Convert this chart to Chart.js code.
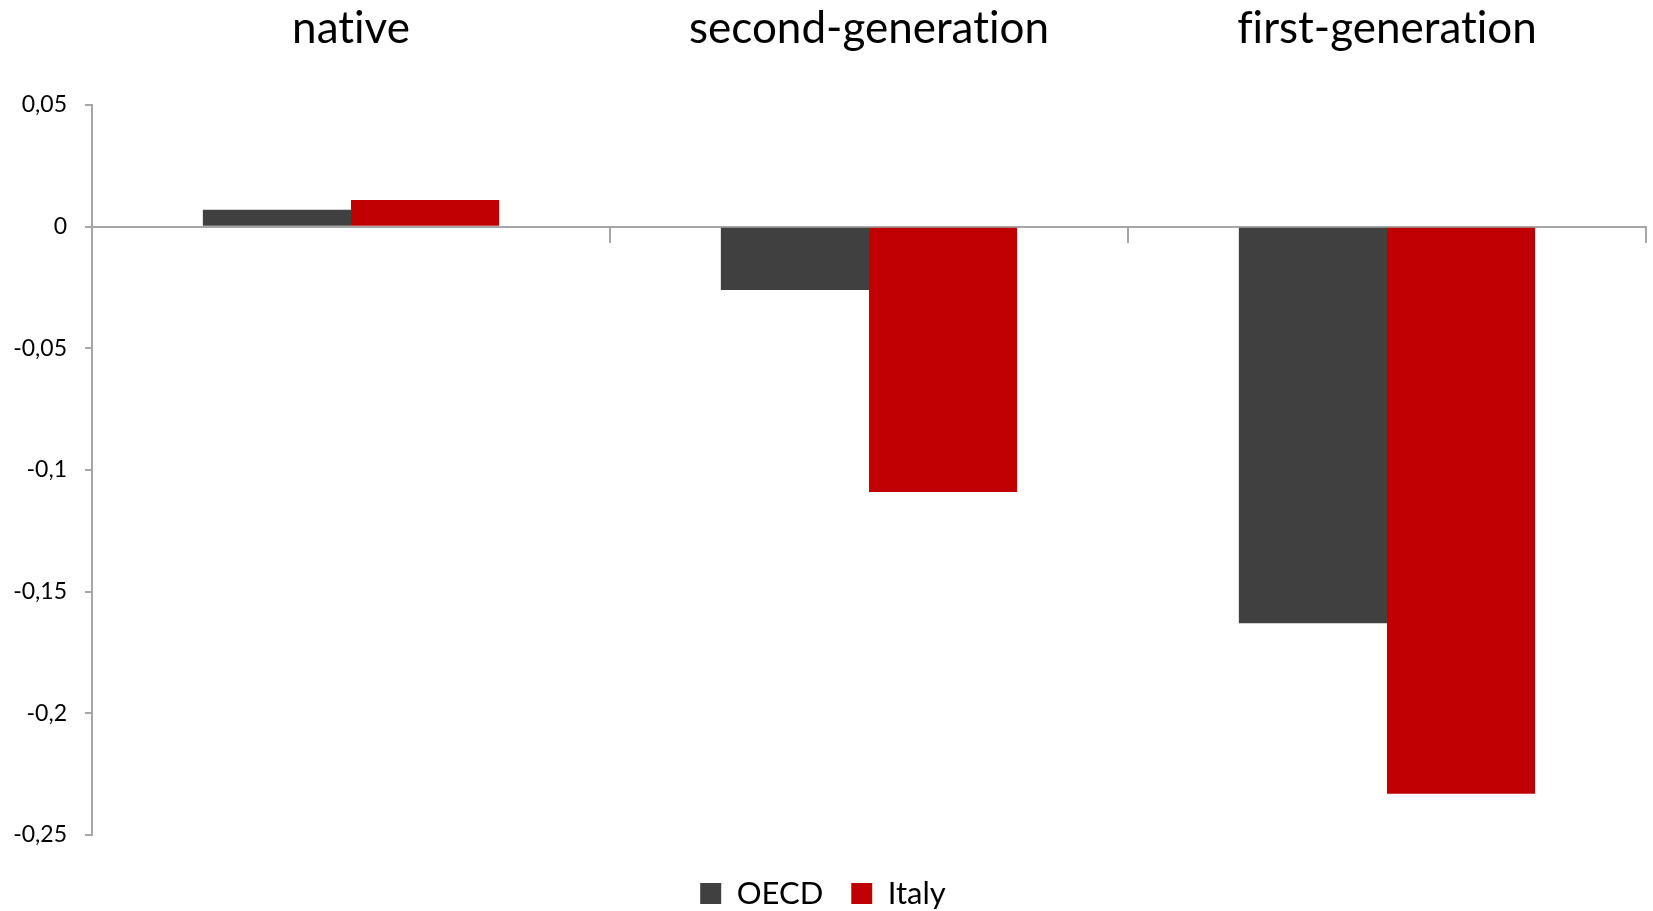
<!DOCTYPE html>
<html>
<head>
<meta charset="utf-8">
<script src="https://cdn.jsdelivr.net/npm/chart.js@4.4.1/dist/chart.umd.min.js"></script>
<style>
  html, body { margin: 0; padding: 0; background: #fff; }
  #wrap { width: 1653px; height: 911px; }
</style>
</head>
<body>
<div id="wrap"><canvas id="gaps"></canvas></div>
<script>
const groups = ["native", "second-generation", "first-generation"];
const oecdValues = [0.007, -0.026, -0.163];
const italyValues = [0.011, -0.109, -0.233];
const yTicks = [0.05, 0, -0.05, -0.1, -0.15, -0.2, -0.25];

const gray = '#a6a6a6';

// no ligatures (the original has plain "ti" / "fi")
const noLigatures = {
    id: 'noLigatures',
    beforeDraw(chart) { chart.ctx.textRendering = 'optimizeSpeed'; }
};

const myChart = new Chart(document.getElementById("gaps"), {
    type: 'bar',
    data: {
        labels: groups,
        datasets: [
            {label: 'OECD', data: oecdValues, backgroundColor: '#404040', borderWidth: 0},
            {label: 'Italy', data: italyValues, backgroundColor: '#c00000', borderWidth: 0}
        ]
    },
    plugins: [noLigatures],
    options: {
        responsive: true,
        maintainAspectRatio: false,
        animation: false,
        layout: {padding: {left: 0, right: 7, top: 0, bottom: -8}},
        datasets: {bar: {categoryPercentage: 0.572, barPercentage: 1}},
        plugins: {
            tooltip: {enabled: false},
            legend: {
                position: 'bottom',
                labels: {
                    color: '#000',
                    font: {family: 'Lato', size: 31},
                    boxWidth: 21, boxHeight: 21, padding: 28
                }
            }
        },
        scales: {
            x: {
                position: 'top',
                grid: {display: false},
                border: {display: false},
                ticks: {color: '#000', font: {family: 'Lato', size: 44}, padding: 42},
                afterFit: (s) => { s.height = 105; }
            },
            x2: {
                type: 'category',
                labels: groups,
                position: {y: 0},
                offset: true,
                grid: {offset: true, drawOnChartArea: false, tickLength: 15, color: gray, lineWidth: 2},
                border: {color: gray, width: 2},
                ticks: {display: false}
            },
            gap: {
                type: 'category',
                labels: groups,
                position: 'bottom',
                grid: {display: false},
                border: {display: false},
                ticks: {display: false},
                afterFit: (s) => { s.height = 15; }
            },
            y: {
                min: -0.25, max: 0.05,
                afterBuildTicks: (axis) => { axis.ticks = yTicks.map(v => ({value: v})); },
                afterFit: (s) => { s.width = 92; },
                grid: {color: 'transparent', tickColor: gray, tickLength: 7, lineWidth: 2},
                border: {color: gray, width: 2},
                ticks: {
                    color: '#000',
                    font: {family: 'Lato', size: 23},
                    padding: 18,
                    callback: (v) => String(Math.round(v * 100) / 100).replace('.', ',')
                }
            }
        }
    }
});
</script>
</body>
</html>
